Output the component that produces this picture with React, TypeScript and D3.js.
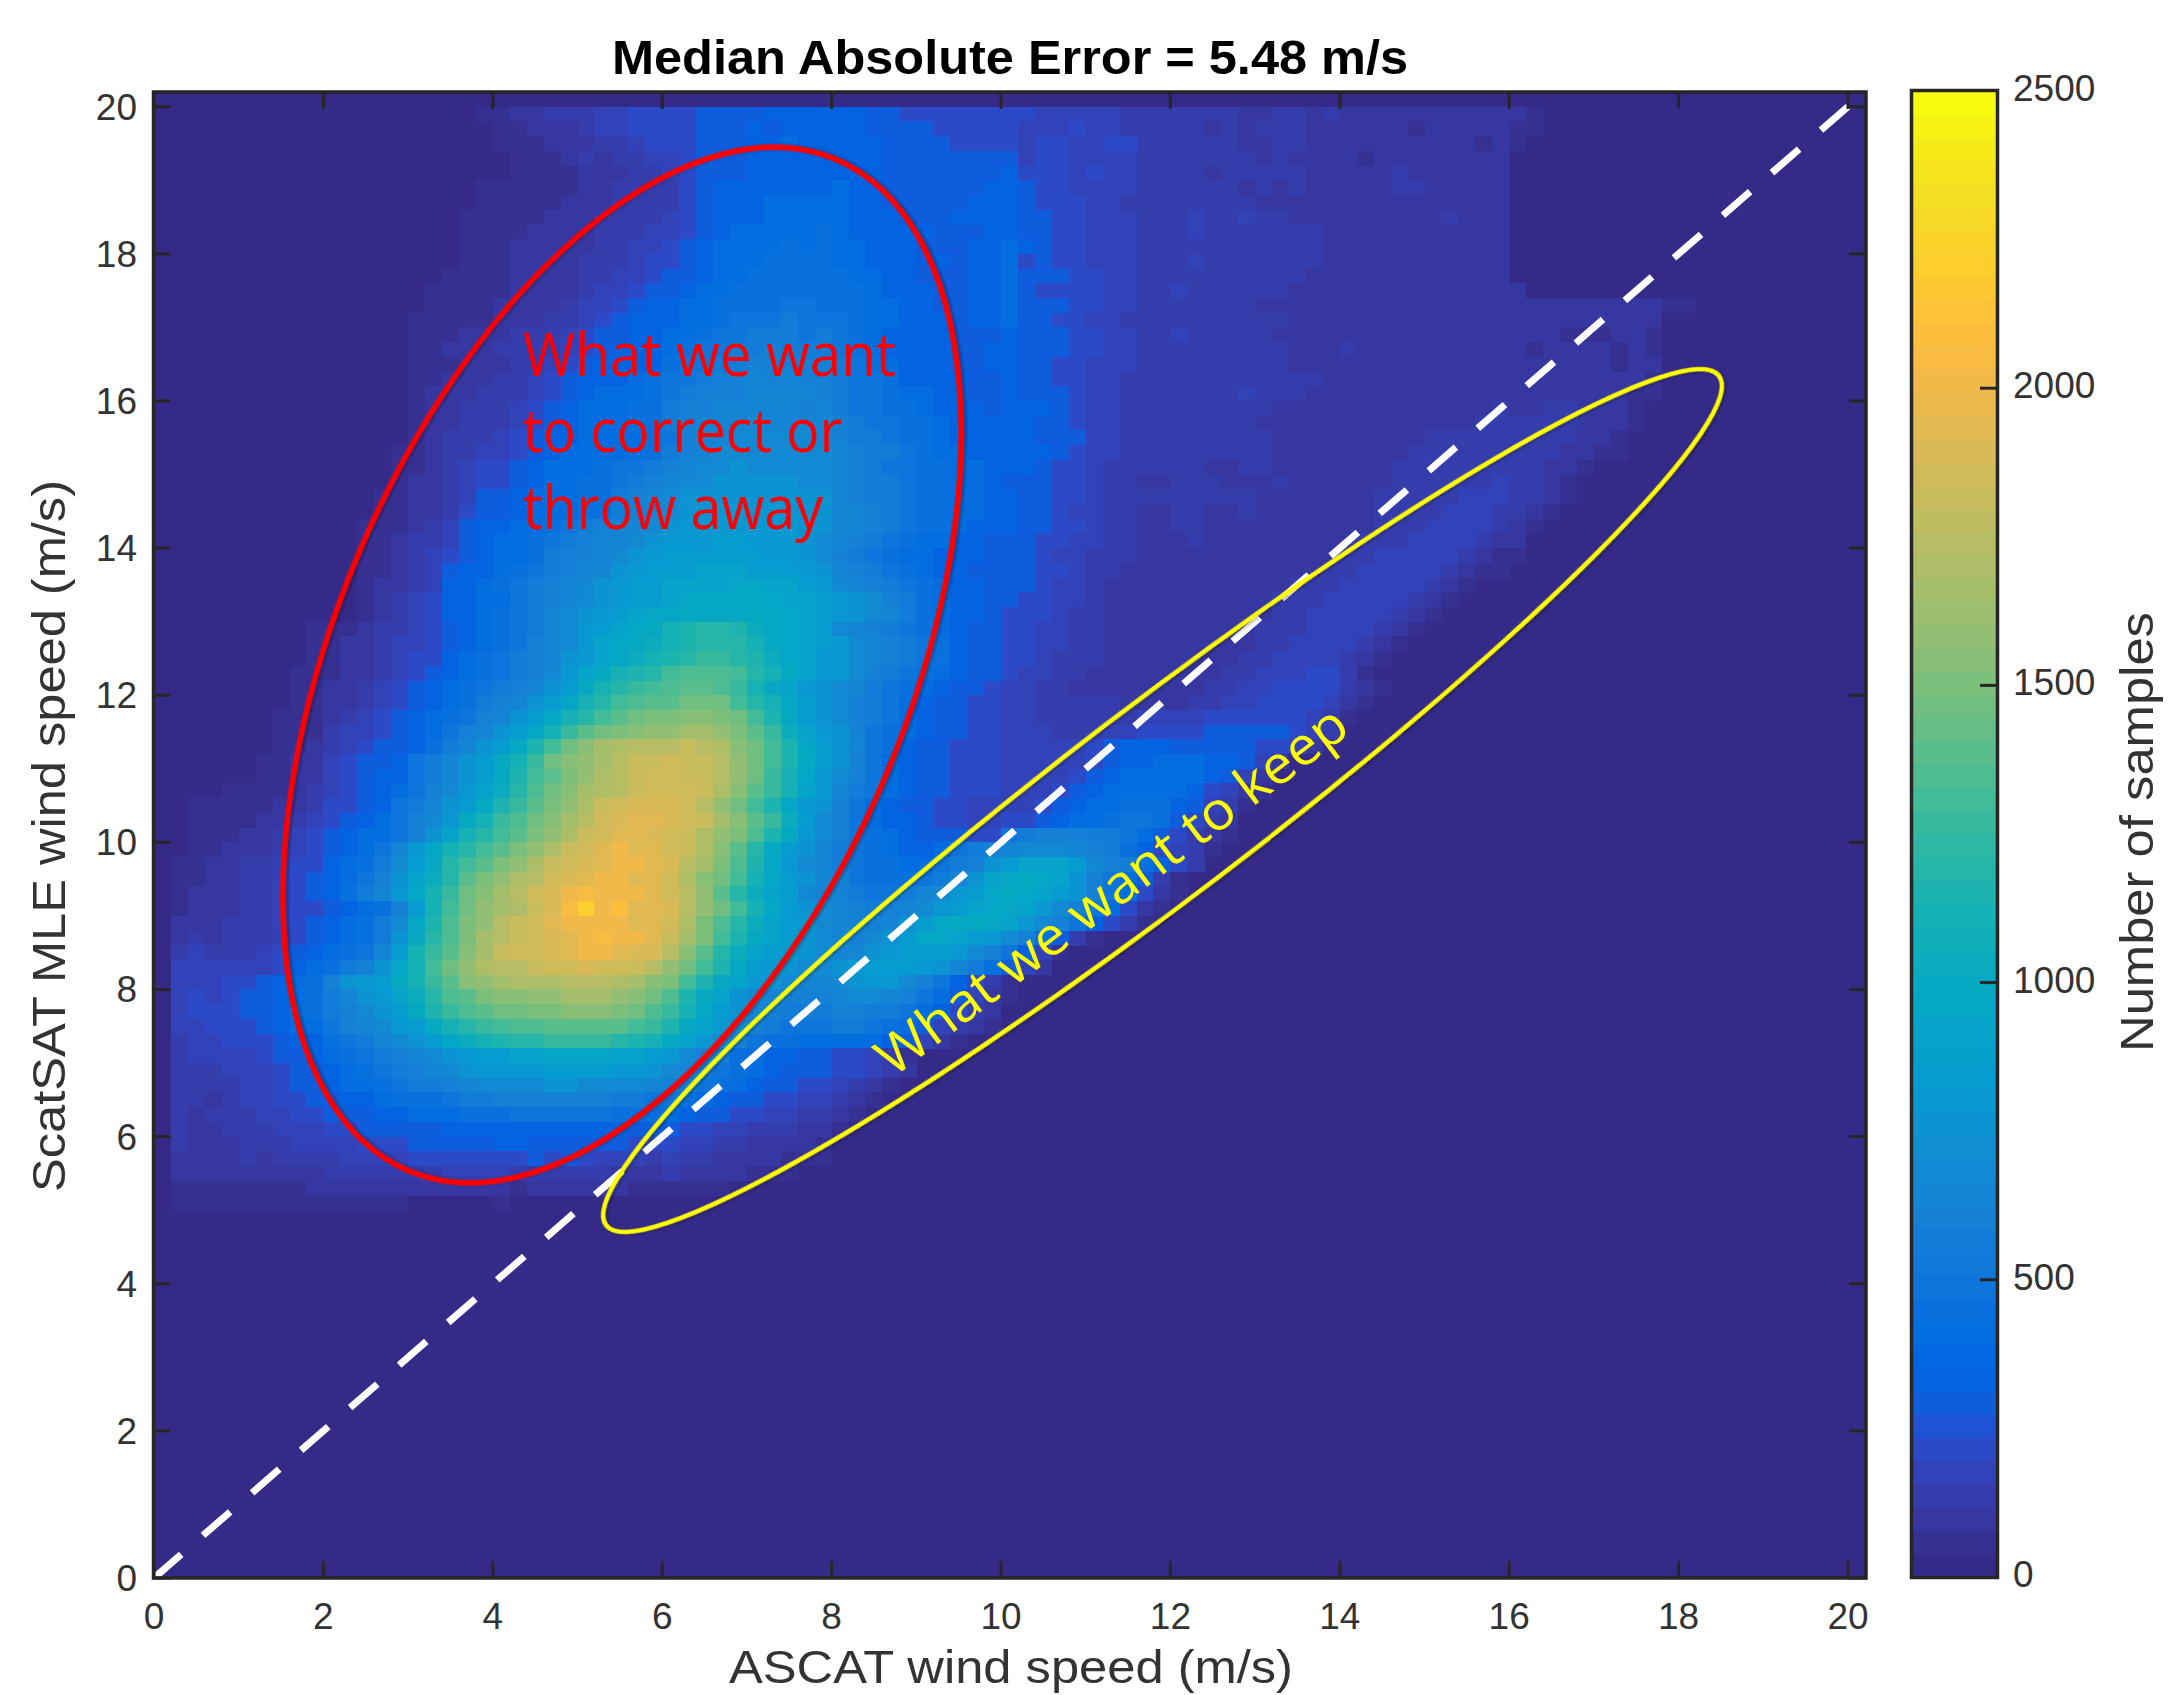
import React from "react";
import * as d3 from "d3";

const parula: number[][] = [
[.2081,.1663,.5292],[.2116,.1898,.5777],[.2123,.2138,.627],[.2081,.2386,.6771],[.1959,.2645,.7279],[.1707,.2919,.7792],[.1253,.3242,.8303],[.0591,.3598,.8683],
[.0117,.3875,.882],[.006,.4086,.8828],[.0165,.4266,.8786],[.0329,.443,.872],[.0498,.4586,.8641],[.0629,.4737,.8554],[.0723,.4887,.8467],[.0779,.504,.8384],
[.0793,.52,.8312],[.0749,.5375,.8263],[.0641,.557,.824],[.0488,.5772,.8228],[.0343,.5966,.8199],[.0265,.6137,.8135],[.0239,.6287,.8038],[.0231,.6418,.7913],
[.0228,.6535,.7768],[.0267,.6642,.7607],[.0384,.6743,.7436],[.059,.6838,.7254],[.0843,.6928,.7062],[.1133,.7015,.6859],[.1453,.7098,.6646],[.1801,.7177,.6424],
[.2178,.725,.6193],[.2586,.7317,.5954],[.3022,.7376,.5712],[.3482,.7424,.5473],[.3953,.7459,.5244],[.442,.7481,.5033],[.4871,.7491,.484],[.53,.7491,.4661],
[.5709,.7485,.4494],[.6099,.7473,.4337],[.6473,.7456,.4188],[.6834,.7435,.4044],[.7184,.7411,.3905],[.7525,.7384,.3768],[.7858,.7356,.3633],[.8185,.7327,.3498],
[.8507,.7299,.336],[.8824,.7274,.3217],[.9139,.7258,.3063],[.945,.7261,.2886],[.9739,.7314,.2666],[.9938,.7455,.2403],[.999,.7653,.2164],[.9955,.7861,.1967],
[.988,.8066,.1794],[.9789,.8271,.1633],[.9697,.8481,.1475],[.9626,.8705,.1309],[.9589,.8949,.1132],[.9598,.9218,.0948],[.9661,.9514,.0755],[.9763,.9831,.0538]];

// Each character stands for a bin count: the first entries come from lowCounts, the rest are steps of 50 samples.
// One row per 0.2 m/s of ScatSAT speed, top row (19.8) first.
// Groups cover 2 m/s of ASCAT speed. Rows below 5 m/s are empty.
const levelChars = "0123456789abcdefghijklmnopqrstuvwxyzABCDEFGHI";
const lowCounts = [0, 50, 100, 150, 180, 230, 300];
const binRows: string[] = [
"0000000000 0000000001 1223334455 5566667777 7766555555 5544444333 3333223323 2222222222 2100000000",
"0000000000 0000000000 1122234455 5566676777 7766665555 5444544333 3323233322 2222122222 1100000000",
"0000000000 0000000000 1112223345 5566677877 7776666555 5455445533 3333223322 2222222212 1000000000",
"0000000000 0000000000 0111232334 4566677777 7776666666 6455444433 3333323222 2122222222",
"0000000000 0000000000 0111122233 4566677777 7776666666 7555454433 3323333322 2223222222",
"0000000000 0000000001 1111122333 3567777777 8776666667 7655444433 3333232322 2223322222",
"0000000000 0000000001 1111222333 3567778888 8776666677 7655544333 3333322222 2222222222",
"0000000000 0000000011 1112223333 4567778888 8777666777 7665544433 3433433222 2222223222",
"0000000000 0000000011 1122223334 4567888889 8777776667 7665544433 3433333332 2222222222",
"0000000000 0000000011 1222223344 5678888989 8877766677 8765544433 3333333332 2222222222",
"0000000000 0000000011 1222233345 5678889999 8877767677 8565544433 3433333332 2222222222",
"0000000000 0000000111 1222233445 6678899999 9887766677 8666554433 3333333322 2222222222",
"0000000000 0000001111 1222234456 6788999999 9987776677 8655554433 4333333222 2222222222 2000000000",
"0000000000 0000001111 2222344567 7889999aa9 9988776677 8666554433 3333322222 2222222222 2222222221 1",
"0000000000 0000011111 2223345677 7889aaabaa a988777677 8665544333 3333333222 2222222222 2222222220",
"0000000000 0000011122 2333456677 889aabbbab a987777666 7666554433 4333332222 2222222222 2221112210",
"0000000000 0000011222 3333456777 89aabbcbbb a987777667 7666554433 3333333222 3222222222 2122221210",
"0000000000 0000011122 2334567777 9aabbccccc ba98777667 7665544433 3333333222 2222222222 2222221220",
"0000000000 0000011222 3345677789 aabccdcdcc baa9777766 7665544333 3333333332 2222222222 2222222210",
"0000000000 0000012223 3345678889 abcccddddc baa9887766 7666544333 3333433322 2222222222 2222222110",
"0000000000 0000012233 3456788899 bccdddddcd baa9987776 7776544333 3333332222 2222222223 2233222100",
"0000000000 0000012233 3456788899 bcdddedddd cbaa998777 7766544333 3333322222 2222222233 3333222100",
"0000000000 0000012333 4567788889 acddeeeeed cbba998777 7766644333 3333332222 2222233333 3333221000",
"0000000000 0000112334 4567888899 bcdeeeeeee dcbba98877 7776544333 3333332222 2222333333 3332211000",
"0000000000 0000112345 5678889aab cdeefeeeee dcbaa99887 7765543333 3322332222 2223333333 3322100000",
"0000000000 0000122345 5678899abc deefffffee dcbba99887 6665543322 3332223222 2223333334 3321000000",
"0000000000 0001122346 6788899bcd efffffffff dcbba99887 7665543333 3333322222 2233333444 3321000000",
"0000000000 0001122356 6788899bcd effggfgfff ddcba99887 7665443322 3322322222 2233334443 3210000000",
"0000000000 0011123467 7889abcdde fgggggggff ddcba99877 7665543322 3322222222 2233344443 2100000000",
"0000000000 0011233467 889abcddef ggghhgggfe dcba988776 6655443322 2322222222 2333444432 2000000000",
"0000000000 0011234567 889bccdefg hhhhhhggfe cba9887776 6654433322 2222222222 3344444321 1000000000",
"0000000000 0011234677 89abcddfgh hhiiihhhgf dcba987766 6655433222 2222222223 3444443211",
"0000000000 0012234778 9abcdefghh iiiijjiihg edcba98776 6654432222 2222222333 4444432100",
"0000000000 0012345778 8abcdefghh ijjjjjjiih gfecb98776 6554432222 2222223334 4444321000",
"0000000000 0012345778 9abdefghij jkkkkkjjih gfedb98776 5554332222 2222223344 4443210000",
"0000000001 1123345678 9abdeghijk mnoonlkjih edcba98766 5544332222 2222233344 4432100000",
"0000000001 1223445678 9acdegijkl mnooomkjih gedcba9766 5544332222 2222233444 4321000000",
"0000000001 1223455789 abcdfgijlm nopponljig gedcba9766 5543332222 2222334444 3210000000",
"0000000011 1223456789 abcegikmno qrrrqomkig gecba98766 5443322222 2223344455 3100000000",
"0000000011 223456789a bcdfhkmopq rssrpmkigf edba987665 4433222222 2233445555 3210000000",
"0000000011 223456789b cdfhjmoqrs stttqomjhf ecba876655 4433333222 2334455554 2100000000",
"0000000111 23456789ac dfhjmoqstu uvvutqnkhf ecba876655 4433333344 4455555543 1000000000",
"0000000111 3445678acd fhjmpstuvw wxxwusplig fca9876655 4443334455 5566666543",
"0000000112 3456679bdf hknqtvxyzz zAzyvtqnjh fda9766555 4444456777 6666655420",
"0000001122 45667abdfh kmptvwxzAA BAAzwtqnkh fca8766555 4444456778 8877642000",
"0000001122 45677abdfh knqsuwyzAB BAAzwtpmjg eca8766555 4444567888 8876420000",
"0000111123 45678acegi lortvxyzAB BBAyvspmig dba8766555 4445678888 8754210000",
"0011111223 5567abdfhk npsuwyABCC CBzwtqnjgf ca87665544 4456788999 7643100000",
"0011112234 5678acegkm prtvxzBCDD CBAxvsplhe ca87765544 5567889aa9 6532000000",
"0011122345 6788acfimo qsuwyABDDC BAywurnkge ca98766655 abcccbba86 5321000000",
"0011222345 678adgjmoq suwyABDEDD BAyvsokhfd ba98778abc deeedcb975 4310000000",
"0112233455 789behkoqs uwyABCDEED Czxurnjged ba9988abcf hiiihecb97 5300000000",
"0112233456 78acfilosu wyzBCDEEDD Byvtqmjhfd ca999abdfi kkjifca863 1000000000",
"0122233456 79bdgjmptv xzBCEFEEED Bzwsolihec cbaabdeghj kjihfca852 1000000000",
"0122233455 6789chmqtw xyACFIEGDD Czwtqmjhfe dcbcdeghij jigeca8521",
"0222333456 789bejnruw zABDEEEEDD Byurolihge dccdfhjkkj igeca75310",
"0232333456 789bfkorux zABCDEFEED Axuqnkihfe dcefhjjihg ec96310000",
"0343334567 89adhmpsvx ABBCDEEDCC zvsolihgfe defghhhgec a741000000",
"0444444578 9bcfjmqtwy zzABBCBBAz wtqnkhgfee fghhhgfdb9 6420000000",
"0444556789 cfghkmpsvw xyyyzzzyxv uqnkigfedd efggeca753 1000000000",
"0454566789 bdfgilorsu vvwwxxxwvt rnkifedccc deedca8642 1000000000",
"0455566789 bcefhknprs ttuuvvvutr pmjhfdcbbb ccbba87532",
"0445556788 acdeghkmop qrrsssssqp nkigecbaaa bba9864321",
"0344555677 9abdefhjlm noopppponm kigeca9988 8887642100",
"0344445667 89abcdefgh hiijjjjiih gecb987766 5543100000",
"0333444566 789abcdefg ggghhhhggf edba987666 5543200000",
"0333344566 7889abbcde eeeffeeeed cba9876655 4321000000",
"0332344556 6778999abb cccccccbba a987665544 3210000000",
"0323334455 6667788899 9aaaaaa998 8766554433 2100000000",
"0322333444 5566666777 7777777766 6554433322 1000000000",
"0322233344 4455566666 7766666655 5443322221",
"0222232333 3444455555 5565654443 4332222111",
"0222222222 3333333444 4333333222 3222211100",
"0111111112 2222222222 2122222211 1111000000",
"0111111111 1111100000 1000000000",
];

const axisTicks = [0, 2, 4, 6, 8, 10, 12, 14, 16, 18, 20];
const colorbarTicks = [0, 500, 1000, 1500, 2000, 2500];
const binWidth = 0.2;
const titleText = "Median Absolute Error = 5.48 m/s";
const xLabelText = "ASCAT wind speed (m/s)";
const yLabelText = "ScatSAT MLE wind speed (m/s)";
const barLabelText = "Number of samples";
const redNote = ["What we want", "to correct or", "throw away"];
const yellowNote = "What we want to keep";

const FONT = "'Liberation Sans', Arial, sans-serif";
const NOTE_FONT = "'Open Sans', 'Noto Sans', sans-serif";
const INK = "#333333";

export default function App() {
  const x = d3.scaleLinear().domain([0, 20]).range([154, 1848]);
  const y = d3.scaleLinear().domain([0, 20]).range([1578, 106.7]);
  const bar = d3.scaleLinear().domain([0, 2500]).range([1577, 91]);
  const toRgb = (c: number[]) => d3.rgb(c[0] * 255, c[1] * 255, c[2] * 255).formatHex();
  const palette = parula.map(toRgb);
  const color = d3.scaleQuantize<string>().domain([0, 2500]).range(palette);
  const levelBand = d3.scaleBand<number>().domain(d3.range(palette.length)).range([1577, 91]);

  const cells: { cx: number; cy: number; v: number }[] = [];
  binRows.forEach((row, j) => {
    const cols = row.split(" ").map((g) => g.padEnd(10, "0").slice(0, 10)).join("");
    const yLow = 19.8 - j * binWidth;
    for (let i = 0; i < cols.length; i++) {
      const k = Math.max(levelChars.indexOf(cols[i]), 0);
      const v = k < lowCounts.length ? lowCounts[k] : k * 50;
      if (v > 0) cells.push({ cx: i * binWidth, cy: yLow, v });
    }
  });

  const left = 153.5, right = 1866, top = 92, bottom = 1578;
  const tickLen = 17;

  return (
    <svg width={2168} height={1695} viewBox="0 0 2168 1695"
      style={{ position: "absolute", left: 0, top: 0, display: "block", background: "#fff" }}>
      <defs>
        <filter id="soft" x="-5%" y="-5%" width="110%" height="110%">
          <feDropShadow dx="1" dy="2" stdDeviation="1.5" floodColor="#000" floodOpacity="0.35" />
        </filter>
      </defs>

      <rect x={left} y={top} width={right - left} height={bottom - top} fill={palette[0]} />
      <g shapeRendering="crispEdges">
        {cells.map((c, k) => (
          <rect key={k} x={x(c.cx)} y={y(c.cy + binWidth)}
            width={x(binWidth) - x(0) + 0.3} height={y(0) - y(binWidth) + 0.3} fill={color(c.v)} />
        ))}
      </g>

      <line x1={x(0)} y1={y(0)} x2={x(20)} y2={y(20)} stroke="#fff" strokeWidth={7} strokeDasharray="36 28.94" />

      <g stroke="#262626" strokeWidth={3}>
        {axisTicks.map((t) => (
          <g key={t}>
            <line x1={x(t)} x2={x(t)} y1={bottom} y2={bottom - tickLen} />
            <line x1={x(t)} x2={x(t)} y1={top} y2={top + tickLen} />
            <line x1={left} x2={left + tickLen} y1={y(t)} y2={y(t)} />
            <line x1={right} x2={right - tickLen} y1={y(t)} y2={y(t)} />
          </g>
        ))}
      </g>
      <rect x={left} y={top} width={right - left} height={bottom - top} fill="none" stroke="#262626" strokeWidth={3.5} />

      <g fontFamily={FONT} fontSize={37} fill={INK}>
        {axisTicks.map((t) => (
          <text key={t} x={x(t)} y={1629} textAnchor="middle">{t}</text>
        ))}
        {axisTicks.map((t) => (
          <text key={t} x={137} y={y(t) + 13} textAnchor="end">{t}</text>
        ))}
        {colorbarTicks.map((t) => (
          <text key={t} x={2013} y={bar(t) + 10} textAnchor="start">{t}</text>
        ))}
      </g>

      <text x={1010} y={74} textAnchor="middle" fontFamily={FONT} fontWeight="bold" fontSize={49} fill="#000"
        textLength={796} lengthAdjust="spacingAndGlyphs">{titleText}</text>
      <text x={1011} y={1683} textAnchor="middle" fontFamily={FONT} fontSize={46} fill={INK}
        textLength={564} lengthAdjust="spacingAndGlyphs">{xLabelText}</text>
      <text transform="translate(65,836) rotate(-90)" textAnchor="middle" fontFamily={FONT} fontSize={46} fill={INK}
        textLength={712} lengthAdjust="spacingAndGlyphs">{yLabelText}</text>
      <text transform="translate(2153,832) rotate(-90)" textAnchor="middle" fontFamily={FONT} fontSize={46} fill={INK}
        textLength={440} lengthAdjust="spacingAndGlyphs">{barLabelText}</text>

      <g shapeRendering="crispEdges">
        {palette.map((c, i) => (
          <rect key={i} x={1911} y={levelBand(i)! - 0.3} width={87} height={levelBand.bandwidth() + 0.6} fill={c} />
        ))}
      </g>
      <g stroke="#262626" strokeWidth={3}>
        {colorbarTicks.slice(1, -1).map((t) => (
          <line key={t} x1={1997} x2={1980} y1={bar(t)} y2={bar(t)} />
        ))}
      </g>
      <rect x={1911.5} y={90.5} width={86} height={1487} fill="none" stroke="#262626" strokeWidth={3.5} />

      <ellipse cx={622} cy={665} rx={549} ry={286} transform="rotate(-67.1 622 665)" fill="none"
        stroke="#ff0000" strokeWidth={5.5} filter="url(#soft)" />
      <ellipse cx={1162.5} cy={800.5} rx={700} ry={94.7} transform="rotate(-37.36 1162.5 800.5)" fill="none"
        stroke="#ffff00" strokeWidth={4.5} filter="url(#soft)" />

      <g fontFamily={NOTE_FONT} fontSize={60} fill="#ff0000">
        <text x={523} y={376} textLength={373} lengthAdjust="spacingAndGlyphs">{redNote[0]}</text>
        <text x={523} y={452} textLength={319} lengthAdjust="spacingAndGlyphs">{redNote[1]}</text>
        <text x={523} y={529} textLength={300} lengthAdjust="spacingAndGlyphs">{redNote[2]}</text>
      </g>
      <text transform="translate(893,1078) rotate(-37)" fontFamily={NOTE_FONT} fontSize={53} fill="#ffff00"
        textLength={575} lengthAdjust="spacingAndGlyphs">{yellowNote}</text>
    </svg>
  );
}
